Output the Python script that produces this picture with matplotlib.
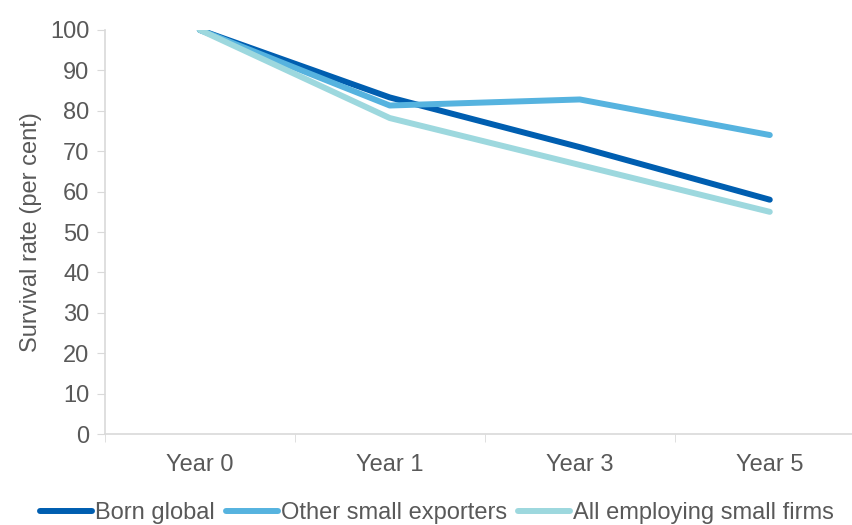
import matplotlib.pyplot as plt

plt.rcParams['font.family'] = ['Liberation Sans', 'DejaVu Sans']

# survival rates by years since start
years = ['Year 0', 'Year 1', 'Year 3', 'Year 5']
born_global = [100, 83.3, 71.0, 58.0]
other_exporters = [100, 81.3, 82.8, 74.0]
all_small_firms = [100, 78.2, 66.6, 55.0]

grey = '#595959'
axis_grey = '#D9D9D9'

fig = plt.figure(figsize=(8.52, 5.25), dpi=100)
ax = fig.add_axes([0.123, 0.173, 0.892, 0.770])

x = range(len(years))
ax.plot(x, born_global, color='#005EB0', lw=4.3, solid_capstyle='round', label='Born global')
ax.plot(x, other_exporters, color='#56B3DF', lw=4.3, solid_capstyle='round', label='Other small exporters')
ax.plot(x, all_small_firms, color='#9DD8DE', lw=4.3, solid_capstyle='round', label='All employing small firms')

ax.set_xlim(-0.5, 3.5)
ax.set_ylim(0, 100)
ax.set_yticks(range(0, 101, 10))
ax.set_xticks(list(x))
ax.set_xticklabels(years)
# category separators on the x axis
ax.set_xticks([i - 0.5 for i in range(len(years) + 1)], minor=True)
ax.tick_params(axis='x', which='major', length=0, pad=14, labelsize=17, labelcolor=grey)
ax.tick_params(axis='x', which='minor', length=6, color=axis_grey, direction='out')
ax.tick_params(axis='y', length=6, color=axis_grey, labelsize=17, labelcolor=grey, pad=5)

for side in ['top', 'right']:
    ax.spines[side].set_visible(False)
for side in ['left', 'bottom']:
    ax.spines[side].set_color(axis_grey)
    ax.spines[side].set_linewidth(1.2)

ax.set_ylabel('Survival rate (per cent)', fontsize=17, color=grey, labelpad=6)

fig.legend(loc='center', bbox_to_anchor=(0.513, 1 - 513 / 525), ncol=3, frameon=False,
           fontsize=17, handlelength=2.2, handletextpad=0.15, columnspacing=0.45,
           labelcolor=grey)

fig.savefig('out.png', dpi=100)
